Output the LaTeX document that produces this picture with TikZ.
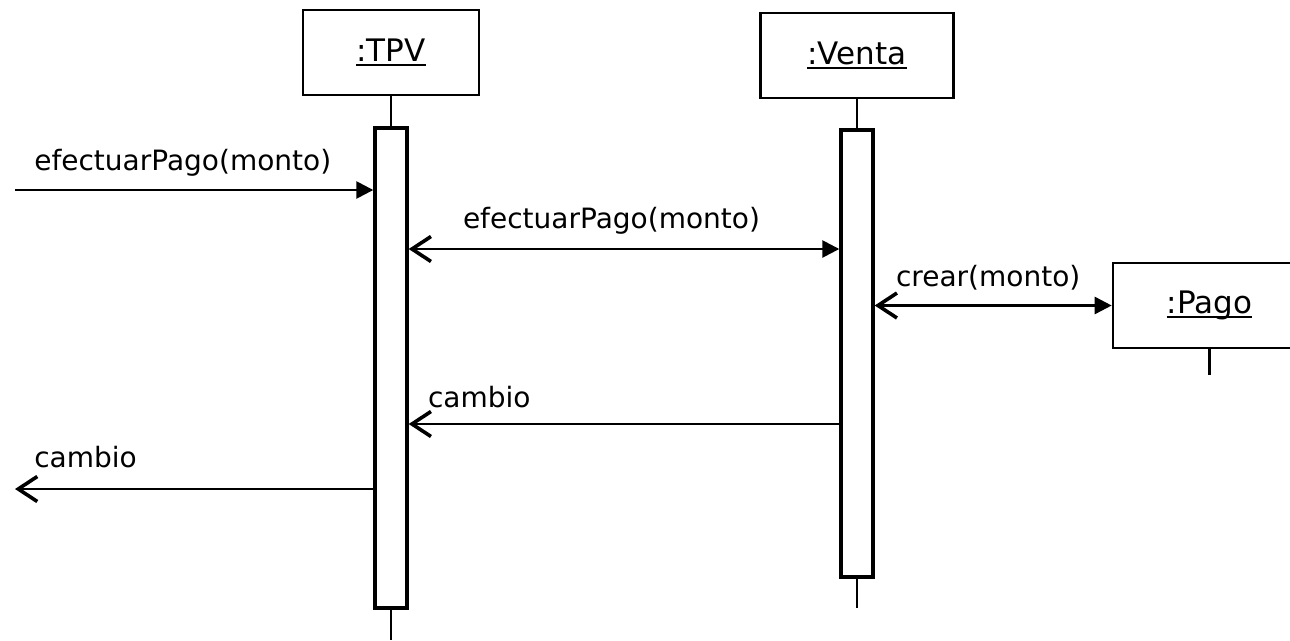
\documentclass[tikz,border=0pt]{standalone}
\usepackage{fontspec}
\setmainfont{DejaVu Sans}
\usetikzlibrary{arrows.meta}
\newcommand{\objname}[1]{\setbox0\hbox{#1}\rlap{\rule[-4pt]{\wd0}{2pt}}\box0}
\tikzset{
	fil/.tip={Triangle[length=17pt,width=17pt]},
	opn/.tip={Straight Barb[length=19pt,width=25pt,line width=3.6pt]}
}

\begin{document}
\begin{tikzpicture}[x=1pt,y=-1pt,>=fil,
	font=\fontsize{28}{34}\selectfont,
	obj/.style={draw,line width=2.6pt,minimum width=193pt,minimum height=85pt,inner sep=0pt,
		font=\fontsize{31}{36}\selectfont},
	act/.style={draw,fill=white,line width=3.4pt,minimum width=32pt,inner sep=0pt},
	msg/.style={line width=2.6pt},
	lbl/.style={anchor=base west,inner sep=0pt}
	]
	\useasboundingbox (0,0) rectangle (1290,640);
	% objetos
	\node (tpv) [obj,minimum width=176pt] at (391,52.5) {\objname{:TPV}};
	\node (venta) [obj] at (857,55.5) {\objname{:Venta}};
	\node (pago) [obj] at (1209.5,305.5) {\objname{:Pago}};
	\coordinate (tpvend) at (391,640);
	\coordinate (ventaend) at (857,608);
	\coordinate (pagoend) at (1209.5,375);
	\draw[line width=2.6pt] (tpv) -- (tpvend);
	\draw[line width=2.6pt] (venta) -- (ventaend);
	\draw[line width=2.6pt] (pago) -- (pagoend);
	\node (actT) [act,minimum height=480pt] at (391,368) {};
	\node (actV) [act,minimum height=447pt] at (857,353.5) {};
	% mensajes
	\coordinate (in) at (15,190);
	\coordinate (out) at (15,489);
	\draw[msg,->] (in) -- (actT.west |- in) node (m1) [lbl,at start,xshift=18pt,yshift=20pt] {efectuarPago(monto)};
	\draw[msg,opn-fil] (actT.east |- 0,249) -- (actV.west |- 0,249) node (m2) [lbl,at start,xshift=53pt,yshift=21pt] {efectuarPago(monto)};
	\draw[msg,opn-fil] (actV.east |- pago.west) -- (pago.west) node (m3) [lbl,at start,xshift=20pt,yshift=19pt] {crear(monto)};
	\draw[msg,-opn] (actV.west |- 0,424) -- (actT.east |- 0,424) node (m4) [lbl,at end,xshift=18pt,yshift=17pt] {cambio};
	\draw[msg,-opn] (actT.west |- out) -- (out) node (m5) [lbl,at end,xshift=18pt,yshift=22pt] {cambio};
\end{tikzpicture}
\end{document}
